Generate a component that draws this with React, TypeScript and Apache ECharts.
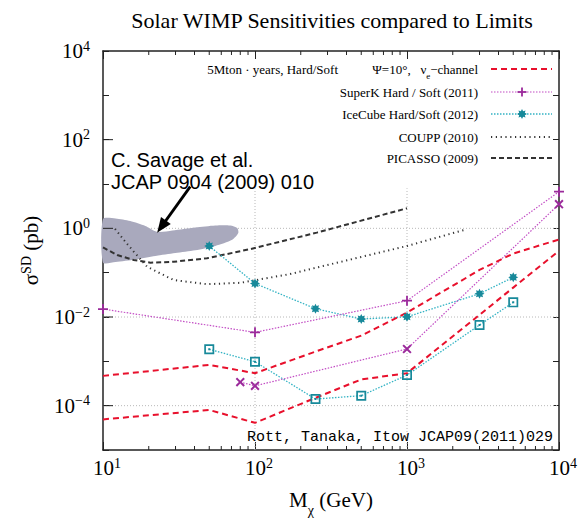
import React, { useEffect, useRef } from 'react';
import * as echarts from 'echarts';

const X_MIN = 10;
const X_MAX = 10000;
const Y_MIN = 1e-5;
const Y_MAX = 1e4;

// 5 Mton·years projections (two red dashed curves)
const mtonLowM = [10, 50, 100, 250, 500, 1000, 3000, 5000, 10000];
const mtonLowS = [4.9e-5, 8.0e-5, 4.1e-5, 1.5e-4, 3.9e-4, 5.4e-4, 1.12e-2, 4.6e-2, 0.31];
const mtonHighM = [10, 50, 100, 250, 500, 1000, 3000, 5000, 10000];
const mtonHighS = [4.7e-4, 8.3e-4, 5.4e-4, 1.66e-3, 3.8e-3, 1.26e-2, 0.115, 0.27, 0.56];

// SuperK (2011)
const superKPlusM = [10, 100, 1000, 10000];
const superKPlusS = [0.0151, 4.5e-3, 0.0233, 6.7];
const superKCrossM = [80, 100, 1000, 10000];
const superKCrossS = [3.4e-4, 2.8e-4, 1.9e-3, 3.5];

// IceCube (2012)
const iceHardM = [50, 100, 250, 500, 1000, 3000, 5000];
const iceHardS = [0.4, 0.057, 0.0154, 9.0e-3, 0.0101, 0.0335, 0.0785];
const iceSoftM = [50, 100, 250, 500, 1000, 3000, 5000];
const iceSoftS = [1.87e-3, 9.8e-4, 1.41e-4, 1.68e-4, 4.9e-4, 6.6e-3, 0.0214];

// COUPP (2010)
const couppM = [12, 13.7, 15.9, 19.5, 29.2, 48.3, 80, 170, 242, 1000, 2460];
const couppS = [0.97, 0.55, 0.3, 0.136, 0.068, 0.055, 0.059, 0.093, 0.125, 0.4, 0.95];

// PICASSO (2009)
const picassoM = [10, 12.4, 15.9, 20.5, 29.2, 48.3, 93, 255, 1000];
const picassoS = [0.37, 0.25, 0.193, 0.168, 0.176, 0.211, 0.34, 0.8, 2.83];

// Savage et al. region outline
const savageM = [10, 12.1, 15.1, 19.0, 22.8, 28.6, 40.5, 54.8, 68.8, 76.4, 77.6, 70.8, 54.8, 40.5, 29.9, 22.1, 16.3, 12.1, 10];
const savageS = [1.62, 1.67, 1.46, 1.13, 0.83, 0.89, 1.04, 1.16, 1.16, 1.02, 0.78, 0.55, 0.4, 0.32, 0.277, 0.238, 0.198, 0.174, 0.169];

// annotation arrow (from, to)
const arrowFrom = [37.5, 8.7];
const arrowTo = [22.7, 0.8];

// grid lines
const gridXs = [100, 1000];
const gridXTop = 8;
const gridYs = [1e-4, 1e-2, 1];

// ticks
const xMinorTicks = [20, 30, 40, 50, 60, 70, 80, 90, 200, 300, 400, 500, 600, 700, 800, 900, 2000, 3000, 4000, 5000, 6000, 7000, 8000, 9000];
const yLabeledTicks = [1e-4, 1e-2, 1, 1e2];

const SERIF = '"Liberation Serif", "Times New Roman", serif';
const SANS = '"Liberation Sans", Arial, sans-serif';
const MONO = '"Liberation Mono", "Courier New", monospace';

const RED = '#e8102c';
const MAG_LINE = '#c24cc4';
const MAG_MARK = '#9b2a9b';
const CYAN_LINE = '#33b3c4';
const CYAN_MARK = '#17899a';
const DARK = '#333333';

function starPath(): string {
  const pts: string[] = [];
  for (let i = 0; i < 16; i++) {
    const a = -Math.PI / 2 + (i * Math.PI) / 8;
    const r = i % 2 === 0 ? 5 : 3.0;
    pts.push(`${(5 + r * Math.cos(a)).toFixed(2)},${(5 + r * Math.sin(a)).toFixed(2)}`);
  }
  return 'path://M' + pts.join('L') + 'Z';
}
const PLUS = 'path://M4.1,0H5.9V4.1H10V5.9H5.9V10H4.1V5.9H0V4.1H4.1Z';
const BOXDOT = 'path://M0,0H10V10H0Z M1.7,1.7V8.3H8.3V1.7Z M4,4H6V6H4Z';

const pairs = (m: number[], s: number[]) => m.map((v, i) => [v, s[i]]);

function buildOption(): any {
  const supRich = {
    b: { fontFamily: SERIF, fontSize: 21, color: '#000', lineHeight: 24 },
    bx: { fontFamily: SERIF, fontSize: 21, color: '#000', lineHeight: 24, padding: [0, 0, 0, 8] },
    s: { fontFamily: SERIF, fontSize: 14, color: '#000', lineHeight: 14, verticalAlign: 'top' },
  };
  const expOf = (v: number) => Math.round(Math.log10(v));
  const fmtExp = (e: number) => (e < 0 ? '\u2212' + Math.abs(e) : String(e));

  const lineBase = (name: string, m: number[], s: number[], color: string, width: number, type: any) => ({
    type: 'line',
    name,
    data: pairs(m, s),
    symbol: 'none',
    showSymbol: false,
    silent: true,
    z: 3,
    lineStyle: { color, width, type, cap: 'butt' },
  });

  const gridSeries: any[] = [];
  gridXs.forEach((x) => {
    gridSeries.push({
      type: 'line',
      data: [[x, Y_MIN], [x, gridXTop]],
      symbol: 'none',
      silent: true,
      z: 1,
      lineStyle: { color: '#b8b8b8', width: 1, type: [1, 2] },
    });
  });
  gridYs.forEach((y) => {
    gridSeries.push({
      type: 'line',
      data: [[X_MIN, y], [X_MAX, y]],
      symbol: 'none',
      silent: true,
      z: 1,
      lineStyle: { color: '#b8b8b8', width: 1, type: [1, 2] },
    });
  });

  const tickLine = (x1: number, y1: number, x2: number, y2: number) => ({
    type: 'line',
    shape: { x1, y1, x2, y2 },
    style: { stroke: '#222', lineWidth: 1 },
  });

  const legendY = [69, 92, 114, 137, 158];
  const lx1 = 491;
  const lx2 = 552;
  const lxc = 522;
  const legendTextStyle = (text: string, y: number, x = 478) => ({
    type: 'text',
    x,
    y,
    style: { text, fontFamily: SERIF, fontSize: 13, fill: '#000', align: 'right', verticalAlign: 'middle' },
  });

  const starPts: number[][] = [];
  for (let i = 0; i < 16; i++) {
    const a = -Math.PI / 2 + (i * Math.PI) / 8;
    const r = i % 2 === 0 ? 5 : 3.0;
    starPts.push([lxc + r * Math.cos(a), legendY[2] + r * Math.sin(a)]);
  }

  return {
    animation: false,
    backgroundColor: '#fff',
    grid: { left: 103, right: 20, top: 51, bottom: 69, containLabel: false, outerBoundsMode: 'none' },
    xAxis: [
      {
        type: 'log',
        logBase: 10,
        min: X_MIN,
        max: X_MAX,
        interval: 1,
        position: 'bottom',
        name: '{b|M}{sub|\u03c7}{b| (GeV)}',
        nameLocation: 'middle',
        nameGap: 38,
        nameTextStyle: {
          rich: {
            b: { fontFamily: SERIF, fontSize: 21, color: '#000', lineHeight: 24 },
            sub: { fontFamily: SERIF, fontSize: 14, color: '#000', lineHeight: 14, verticalAlign: 'bottom', padding: [0, 0, -5, 0] },
          },
        },
        axisLine: { show: true, onZero: false, lineStyle: { color: '#222', width: 1.5 } },
        axisTick: { show: true, inside: true, length: 8, lineStyle: { color: '#222', width: 1 } },
        axisLabel: {
          margin: 6,
          formatter: (v: number) => `{bx|10}{s|${fmtExp(expOf(v))}}`,
          rich: supRich,
        },
        splitLine: { show: false },
      },
      {
        type: 'log',
        logBase: 10,
        min: X_MIN,
        max: X_MAX,
        interval: 1,
        position: 'top',
        axisLine: { show: true, onZero: false, lineStyle: { color: '#222', width: 1.5 } },
        axisTick: { show: true, inside: true, length: 8, lineStyle: { color: '#222', width: 1 } },
        axisLabel: { show: false },
        splitLine: { show: false },
      },
    ],
    yAxis: [
      {
        type: 'log',
        logBase: 10,
        min: Y_MIN,
        max: Y_MAX,
        interval: 1,
        position: 'left',
        name: '{b|\u03c3}{s|SD}{b| (pb)}',
        nameLocation: 'middle',
        nameRotate: 90,
        nameGap: 60,
        nameTextStyle: {
          rich: {
            b: { fontFamily: SERIF, fontSize: 21, color: '#000', lineHeight: 24 },
            s: { fontFamily: SERIF, fontSize: 14, color: '#000', lineHeight: 14, verticalAlign: 'top' },
          },
        },
        axisLine: { show: true, onZero: false, lineStyle: { color: '#222', width: 1.5 } },
        axisTick: { show: true, inside: true, length: 6, lineStyle: { color: '#222', width: 1 } },
        axisLabel: {
          margin: 13,
          formatter: (v: number) => {
            const e = expOf(v);
            if (Math.abs(e) % 2 === 1) return '';
            return `{b|10}{s|${fmtExp(e)}}`;
          },
          rich: supRich,
        },
        splitLine: { show: false },
      },
      {
        type: 'log',
        logBase: 10,
        min: Y_MIN,
        max: Y_MAX,
        interval: 1,
        position: 'right',
        axisLine: { show: true, onZero: false, lineStyle: { color: '#222', width: 1.5 } },
        axisTick: { show: true, inside: true, length: 6, lineStyle: { color: '#222', width: 1 } },
        axisLabel: { show: false },
        splitLine: { show: false },
      },
    ],
    series: [
      ...gridSeries,
      {
        type: 'custom',
        name: 'Savage et al.',
        silent: true,
        z: 2,
        data: [[savageM[0], savageS[0]]],
        renderItem: (_p: any, api: any) => ({
          type: 'polygon',
          shape: { points: savageM.map((m, i) => api.coord([m, savageS[i]])), smooth: 0.25 },
          style: { fill: '#a9a9bd' },
        }),
      },
      {
        type: 'custom',
        name: 'arrow',
        silent: true,
        clip: false,
        z: 12,
        data: [[arrowFrom[0], arrowFrom[1]]],
        renderItem: (_p: any, api: any) => {
          const a = api.coord(arrowFrom);
          const b = api.coord(arrowTo);
          const dx = b[0] - a[0];
          const dy = b[1] - a[1];
          const len = Math.sqrt(dx * dx + dy * dy);
          const ux = dx / len;
          const uy = dy / len;
          const headL = 15;
          const headW = 6;
          const bx = b[0] - ux * headL;
          const by = b[1] - uy * headL;
          return {
            type: 'group',
            children: [
              { type: 'line', shape: { x1: a[0], y1: a[1], x2: bx + ux * 2, y2: by + uy * 2 }, style: { stroke: '#000', lineWidth: 2.8 } },
              {
                type: 'polygon',
                shape: { points: [b, [bx - uy * headW, by + ux * headW], [bx + uy * headW, by - ux * headW]] },
                style: { fill: '#000' },
              },
            ],
          };
        },
      },
      {
        type: 'custom',
        name: 'xminor',
        silent: true,
        clip: false,
        z: 10,
        data: xMinorTicks.map((v) => [v, Y_MIN]),
        renderItem: (_p: any, api: any) => {
          const x = api.value(0);
          const b = api.coord([x, Y_MIN]);
          const t = api.coord([x, Y_MAX]);
          return {
            type: 'group',
            children: [tickLine(b[0], b[1], b[0], b[1] - 4), tickLine(t[0], t[1], t[0], t[1] + 4)],
          };
        },
      },
      {
        type: 'custom',
        name: 'ymajor',
        silent: true,
        clip: false,
        z: 10,
        data: yLabeledTicks.map((v) => [X_MIN, v]),
        renderItem: (_p: any, api: any) => {
          const y = api.value(1);
          const l = api.coord([X_MIN, y]);
          return { type: 'group', children: [tickLine(l[0], l[1], l[0] + 10, l[1])] };
        },
      },
      lineBase('PICASSO (2009)', picassoM, picassoS, DARK, 2, [5, 3]),
      lineBase('COUPP (2010)', couppM, couppS, DARK, 2, [1.2, 3.6]),
      {
        ...lineBase('IceCube Hard (2012)', iceHardM, iceHardS, CYAN_LINE, 1.3, [1.5, 1.5]),
        symbol: starPath(),
        symbolSize: 10,
        showSymbol: true,
        itemStyle: { color: CYAN_MARK },
      },
      {
        ...lineBase('IceCube Soft (2012)', iceSoftM, iceSoftS, CYAN_LINE, 1.3, [1.5, 1.5]),
        symbol: BOXDOT,
        symbolSize: 10,
        showSymbol: true,
        itemStyle: { color: CYAN_MARK },
      },
      {
        ...lineBase('SuperK Hard (2011)', superKPlusM, superKPlusS, MAG_LINE, 1.2, [1.5, 1.5]),
        symbol: PLUS,
        symbolSize: 10,
        showSymbol: true,
        itemStyle: { color: MAG_MARK },
      },
      {
        ...lineBase('SuperK Soft (2011)', superKCrossM, superKCrossS, MAG_LINE, 1.2, [1.5, 1.5]),
        symbol: PLUS,
        symbolSize: 11,
        symbolRotate: 45,
        showSymbol: true,
        itemStyle: { color: MAG_MARK },
      },
      lineBase('5Mton Hard', mtonLowM, mtonLowS, RED, 2, [6, 4]),
      lineBase('5Mton Soft', mtonHighM, mtonHighS, RED, 2, [6, 4]),
    ],
    graphic: [
      {
        type: 'text',
        x: 332,
        y: 20,
        style: {
          text: 'Solar WIMP Sensitivities compared to Limits',
          fontFamily: SERIF,
          fontSize: 22,
          fill: '#000',
          align: 'center',
          verticalAlign: 'middle',
        },
      },
      {
        type: 'text',
        x: 111,
        y: 160,
        z: 20,
        style: { text: 'C. Savage et al.', fontFamily: SANS, fontSize: 20, fill: '#000', align: 'left', verticalAlign: 'middle' },
      },
      {
        type: 'text',
        x: 111,
        y: 182,
        z: 20,
        style: { text: 'JCAP 0904 (2009) 010', fontFamily: SANS, fontSize: 20, fill: '#000', align: 'left', verticalAlign: 'middle' },
      },
      {
        type: 'text',
        x: 553,
        y: 437,
        z: 20,
        style: { text: 'Rott, Tanaka, Itow JCAP09(2011)029', fontFamily: MONO, fontSize: 15, fill: '#000', align: 'right', verticalAlign: 'middle' },
      },
      // legend
      legendTextStyle('5Mton \u00b7 years, Hard/Soft', legendY[0], 338),
      {
        type: 'text',
        x: 478,
        y: legendY[0],
        style: {
          text: '{t|\u03a8=10\u00b0,   \u03bd}{sub|e}{t|\u2212channel}',
          align: 'right',
          verticalAlign: 'middle',
          rich: {
            t: { fontFamily: SERIF, fontSize: 13, fill: '#000', lineHeight: 16 },
            sub: { fontFamily: SERIF, fontSize: 9, fill: '#000', lineHeight: 9, verticalAlign: 'bottom', padding: [0, 0, -3, 0] },
          },
        },
      },
      legendTextStyle('SuperK Hard / Soft (2011)', legendY[1]),
      legendTextStyle('IceCube Hard/Soft (2012)', legendY[2]),
      legendTextStyle('COUPP (2010)', legendY[3]),
      legendTextStyle('PICASSO (2009)', legendY[4]),
      { type: 'line', shape: { x1: lx1, y1: legendY[0], x2: lx2, y2: legendY[0] }, style: { stroke: RED, lineWidth: 2, lineDash: [6, 4] } },
      { type: 'line', shape: { x1: lx1, y1: legendY[1], x2: lx2, y2: legendY[1] }, style: { stroke: MAG_LINE, lineWidth: 1.2, lineDash: [1.5, 1.5] } },
      { type: 'line', shape: { x1: lxc - 4.5, y1: legendY[1], x2: lxc + 4.5, y2: legendY[1] }, style: { stroke: MAG_MARK, lineWidth: 1.8 } },
      { type: 'line', shape: { x1: lxc, y1: legendY[1] - 4.5, x2: lxc, y2: legendY[1] + 4.5 }, style: { stroke: MAG_MARK, lineWidth: 1.8 } },
      { type: 'line', shape: { x1: lx1, y1: legendY[2], x2: lx2, y2: legendY[2] }, style: { stroke: CYAN_LINE, lineWidth: 1.3, lineDash: [1.5, 1.5] } },
      { type: 'polygon', shape: { points: starPts }, style: { fill: CYAN_MARK } },
      { type: 'line', shape: { x1: lx1, y1: legendY[3], x2: lx2, y2: legendY[3] }, style: { stroke: DARK, lineWidth: 2, lineDash: [1.2, 3.6] } },
      { type: 'line', shape: { x1: lx1, y1: legendY[4], x2: lx2, y2: legendY[4] }, style: { stroke: DARK, lineWidth: 2, lineDash: [5, 3] } },
    ],
  };
}

export default function App() {
  const ref = useRef<HTMLDivElement>(null);
  useEffect(() => {
    if (!ref.current) return;
    const chart = echarts.init(ref.current, null, { renderer: 'svg' });
    chart.setOption(buildOption());
    return () => chart.dispose();
  }, []);
  return <div ref={ref} style={{ position: 'absolute', left: 0, top: 0, width: 579, height: 519 }} />;
}
